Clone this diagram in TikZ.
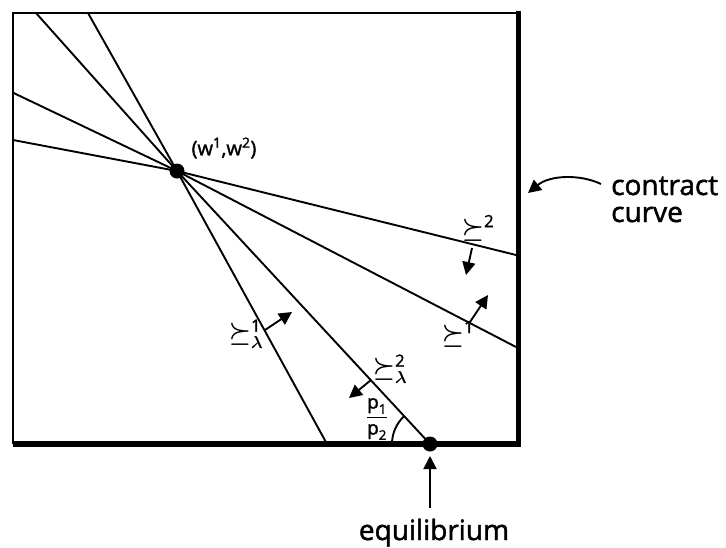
\documentclass[tikz,border=0pt]{standalone}
\usepackage{amsmath}
\usepackage{fontspec}
\setmainfont{Open Sans}[UprightFeatures={FakeBold=1.6}]
\usetikzlibrary{arrows.meta}
\tikzset{
  thinline/.style={line width=1.9pt},
  dotnode/.style={circle,fill=black,inner sep=0pt,minimum size=15pt},
  prefarrow/.style={line width=1.9pt,-{Triangle[length=13pt,width=13pt]}},
  bigtext/.style={font=\fontsize{28}{27}\selectfont,inner sep=0pt,align=left},
  lbl/.style={font=\fontsize{20}{22}\selectfont\boldmath,inner sep=0pt},
  fraclbl/.style={font=\fontsize{19}{21}\selectfont\boldmath,inner sep=0pt},
  symlbl/.style={font=\fontsize{24}{26}\selectfont\boldmath,inner sep=0pt}
}
\begin{document}
\begin{tikzpicture}[x=1pt,y=-1pt]
\useasboundingbox (0,0) rectangle (726,547);
% frame
\coordinate (TL) at (13,13);
\coordinate (TR) at (518,13);
\coordinate (BL) at (13,444);
\coordinate (BR) at (518,444);
\draw[thinline] (BL) -- (TL) -- (TR);
\draw[line width=5pt] (518,11) -- (518,447);
\draw[line width=6pt] (BL) -- (521,444);
% points
\node[dotnode] (W) at (177,171) {};
\node[dotnode] (E) at (430,444) {};
% line ends
\coordinate (a1) at (36,13);
\coordinate (a2) at (88,13);
\coordinate (a3) at (327,444);
\coordinate (b1) at (13,92.7);
\coordinate (b2) at (516,347);
\coordinate (c1) at (13,140);
\coordinate (c2) at (516,255);
\draw[thinline] (a1) -- (W.center) -- (E.center);
\draw[thinline] (a2) -- (W.center) -- (a3);
\draw[thinline] (b1) -- (W.center) -- (b2);
\draw[thinline] (c1) -- (W.center) -- (c2);
% labels
\node[lbl] (wl) at (224,148) {(w\textsuperscript{1},w\textsuperscript{2})};
\node[symlbl] (L1) at (246,334) {$\succeq^{\text{1}}_{\lambda}$};
\node[symlbl] (L2) at (390,369) {$\succeq^{\text{2}}_{\lambda}$};
\node[symlbl] (R2) at (478,228) {$\succeq^{\text{2}}$};
\node[symlbl] (R1) at (458,334) {$\succeq^{\text{1}}$};
% preference arrows
\coordinate (p1s) at (265,330);
\coordinate (p1t) at (292,312);
\draw[prefarrow] (p1s) -- (p1t);
\coordinate (p2s) at (371,380);
\coordinate (p2t) at (349,398);
\draw[prefarrow] (p2s) -- (p2t);
\coordinate (p3s) at (472,248);
\coordinate (p3t) at (466,275);
\draw[prefarrow] (p3s) -- (p3t);
\coordinate (p4s) at (470,322);
\coordinate (p4t) at (488,295);
\draw[prefarrow] (p4s) -- (p4t);
% price ratio
\node[fraclbl] (pr) at (377,419) {$\dfrac{\text{p}_{\text{1}}}{\text{p}_{\text{2}}}$};
\draw[thinline] ([shift={(180:38)}]E.center) arc[start angle=180,end angle=227.2,radius=38];
% contract curve
\node[bigtext,anchor=base west] (cc) at (611,222) {contract\\curve};
\coordinate (ccs) at (601,184);
\coordinate (cct) at (528,193);
\draw[prefarrow] (ccs) .. controls (580,174) and (550,175) .. (cct);
% equilibrium
\node[bigtext,anchor=base] (eq) at (434,540) {equilibrium};
\coordinate (eqs) at (430,508);
\draw[prefarrow] (eqs) -- ([yshift=-12pt]E.center);
\end{tikzpicture}
\end{document}
